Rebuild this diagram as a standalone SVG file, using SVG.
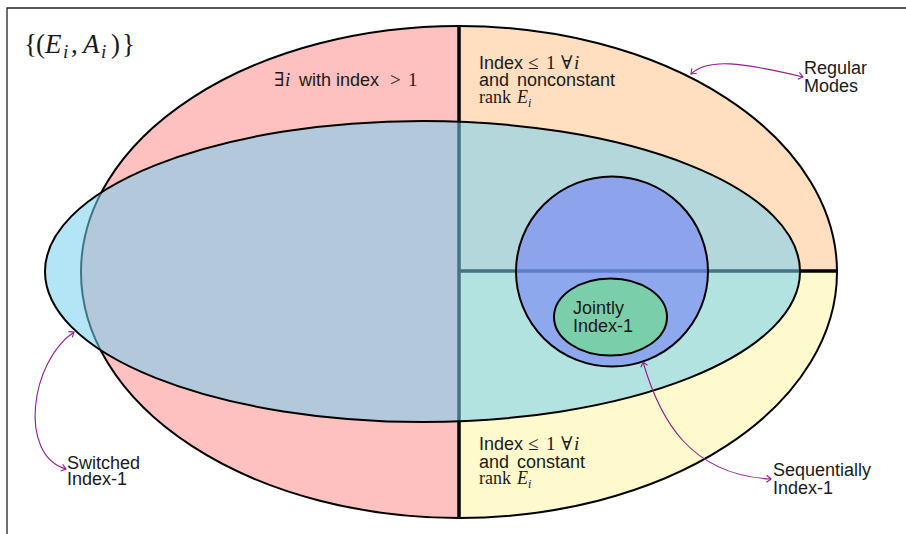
<svg xmlns="http://www.w3.org/2000/svg" width="906" height="534" viewBox="0 0 906 534">
<style>
.sans{font-family:"Liberation Sans",Arial,sans-serif;font-size:18px;fill:#1a1a1a}
.serif{font-family:"Liberation Serif","DejaVu Serif",serif;fill:#1a1a1a}
.it{font-style:italic}
.conn{fill:none;stroke:#8e1f8e;stroke-width:1.1}
.edge{stroke:#000;stroke-width:2}
</style>
<defs>
<marker id="hd" viewBox="-6 -5 8 10" markerWidth="8" markerHeight="10" refX="0" refY="0" orient="auto-start-reverse" markerUnits="userSpaceOnUse">
<path d="M-4.5,-3.5 Q-1,-0.8 0,0 Q-1,0.8 -4.5,3.5" fill="none" stroke="#8e1f8e" stroke-width="1.1"/>
</marker>
</defs>
<rect width="906" height="534" fill="#fff"/>
<path d="M7,534 V8 H906" fill="none" stroke="#222" stroke-width="1.3"/>

<g id="all-pairs">
<ellipse cx="459" cy="272" rx="378" ry="246" fill="#ffc0c0"/>
<path d="M459,272 V26 A378,246 0 0 1 837,272 Z" fill="#ffdfbf"/>
<path d="M459,272 H837 A378,246 0 0 1 459,518 Z" fill="#fffacd"/>
<path d="M459,26 V518 M459,271 H838" stroke="#000" stroke-width="3.5" fill="none"/>
<ellipse cx="459" cy="272" rx="378" ry="246" fill="none" class="edge"/>
</g>

<g id="switched">
<ellipse cx="422.5" cy="271.5" rx="377.5" ry="150.5" fill="#76d0f1" fill-opacity="0.556" class="edge"/>
</g>

<g id="sequential">
<ellipse cx="612" cy="271.5" rx="96" ry="95" fill="#7380f5" fill-opacity="0.6" class="edge"/>
</g>

<g id="jointly">
<ellipse cx="610.5" cy="317" rx="56.5" ry="38.5" fill="#7acfaa" class="edge"/>
<text class="sans" x="573" y="314">Jointly</text>
<text class="sans" x="573" y="332">Index-1</text>
</g>

<g id="title">
<text class="serif" font-size="27" y="53"><tspan x="24">{</tspan><tspan x="36">(</tspan><tspan x="45" class="it">E</tspan><tspan x="63" y="58" class="it" font-size="19">i</tspan><tspan x="71" y="53">,</tspan><tspan x="83" class="it">A</tspan><tspan x="101" y="58" class="it" font-size="19">i</tspan><tspan x="111" y="53">)</tspan><tspan x="122">}</tspan></text>
</g>

<g id="label-index-gt1">
<text class="serif" font-size="19" y="86"><tspan x="274">∃</tspan><tspan x="285" class="it">i</tspan></text>
<text class="sans" x="299" y="86">with index</text>
<text class="serif" font-size="19" y="86"><tspan x="390">&gt;</tspan><tspan x="408">1</tspan></text>
</g>

<g id="label-nonconstant">
<text class="sans" x="479" y="69">Index</text>
<text class="serif" font-size="19" y="69"><tspan x="528">≤</tspan><tspan x="546">1</tspan><tspan x="561">∀</tspan><tspan x="574" class="it">i</tspan></text>
<text class="sans" x="479" y="86" word-spacing="3">and nonconstant</text>
<text class="serif" font-size="18" y="103"><tspan x="479">rank</tspan><tspan x="517" class="it">E</tspan><tspan x="528" y="107" class="it" font-size="12">i</tspan></text>
</g>

<g id="label-constant">
<text class="sans" x="479" y="450">Index</text>
<text class="serif" font-size="19" y="450"><tspan x="528">≤</tspan><tspan x="546">1</tspan><tspan x="561">∀</tspan><tspan x="574" class="it">i</tspan></text>
<text class="sans" x="479" y="468" word-spacing="3">and constant</text>
<text class="serif" font-size="18" y="484"><tspan x="479">rank</tspan><tspan x="517" class="it">E</tspan><tspan x="528" y="488" class="it" font-size="12">i</tspan></text>
</g>

<g id="label-regular">
<text class="sans" x="804" y="74">Regular</text>
<text class="sans" x="804" y="92">Modes</text>
</g>
<g id="label-switched">
<text class="sans" x="67" y="469">Switched</text>
<text class="sans" x="67" y="485">Index-1</text>
</g>
<g id="label-sequential">
<text class="sans" x="773" y="476">Sequentially</text>
<text class="sans" x="773" y="494">Index-1</text>
</g>

<g id="connectors">
<path class="conn" d="M691,74 C708,58 740,62 803,77" marker-start="url(#hd)" marker-end="url(#hd)"/>
<path class="conn" d="M74,332 C30,362 18,455 66,469" marker-start="url(#hd)" marker-end="url(#hd)"/>
<path class="conn" d="M643,362 C660,420 690,475 771,479" marker-start="url(#hd)" marker-end="url(#hd)"/>
</g>
</svg>
